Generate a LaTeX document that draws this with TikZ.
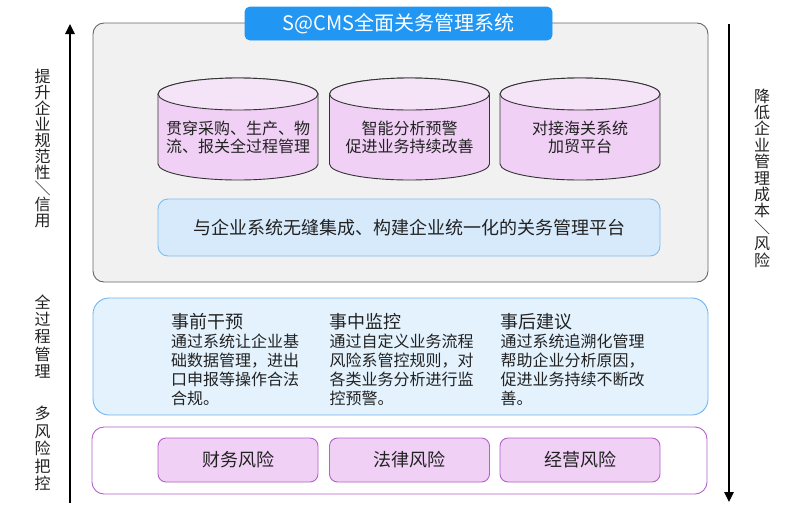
\documentclass[tikz,border=0pt]{standalone}
\usepackage{fontspec}
\setmainfont{Noto Sans CJK SC}
\usetikzlibrary{arrows.meta}
\definecolor{titleblue}{HTML}{2196F3}
\definecolor{grayfill}{HTML}{F1F1F1}
\definecolor{graystroke}{HTML}{666666}
\definecolor{cyltopc}{HTML}{F5E3F8}
\definecolor{cylbodyc}{HTML}{F0D0F5}
\definecolor{cylstroke}{HTML}{333333}
\definecolor{platfill}{HTML}{D6EAFC}
\definecolor{platstroke}{HTML}{7CBDF2}
\definecolor{midfill}{HTML}{E3F2FD}
\definecolor{midstroke}{HTML}{6FB6F2}
\definecolor{riskstroke}{HTML}{B560CC}
\definecolor{riskfill}{HTML}{F0D0F5}
\definecolor{txt}{HTML}{222222}
\begin{document}
\begin{tikzpicture}[x=1pt,y=-1pt,
  every node/.style={text=txt, inner sep=0pt, outer sep=0pt},
  panel/.style={draw, line width=0.9pt, rounded corners=#1},
  graybox/.style={panel=11pt, fill=grayfill, draw=graystroke},
  titlebox/.style={panel=5pt, fill=titleblue, draw=titleblue, text=white,
    font=\fontsize{20}{22}\selectfont},
  platbox/.style={panel=10pt, fill=platfill, draw=platstroke,
    font=\fontsize{18}{20}\selectfont},
  midbox/.style={panel=16pt, fill=midfill, draw=midstroke},
  riskouter/.style={panel=12pt, fill=white, draw=riskstroke},
  riskbox/.style={panel=8pt, fill=riskfill, draw=riskstroke,
    minimum width=160pt, minimum height=44pt, font=\fontsize{18}{20}\selectfont},
  cylbody/.style={fill=cylbodyc, draw=cylstroke, line width=0.9pt},
  cyltop/.style={fill=cyltopc, draw=cylstroke, line width=0.9pt},
  cyltext/.style={align=center, font=\fontsize{16}{18}\selectfont},
  coltext/.style={align=left, anchor=north west, font=\fontsize{16}{19}\selectfont},
  vtext/.style={align=center, font=\fontsize{16}{#1}\selectfont},
  axis/.style={line width=1.5pt, -{Triangle[length=10pt,width=9.5pt]}}
]
\useasboundingbox (0,0) rectangle (800,520);

% outer gray system box
\node[graybox, minimum width=615pt, minimum height=259pt] (sys) at (400.5,152.5) {};
\node[titlebox, minimum width=307pt, minimum height=33pt] (title) at (398.5,23.5) {S@CMS全面关务管理系统};

% cylinders
\foreach \cx/\nm in {238/c1, 409.5/c2, 580/c3}{
  \coordinate (\nm) at (\cx,94);
  \path[cylbody] (\nm) ++(-80,0) -- ++(0,70)
     arc[start angle=180, end angle=360, x radius=80pt, y radius=16pt]
     -- ++(0,-70)
     arc[start angle=0, end angle=180, x radius=80pt, y radius=16pt] -- cycle;
  \path[cyltop] (\nm) ellipse [x radius=80pt, y radius=16pt];
}
\node[cyltext] (t1) at (238,137) {贯穿采购、生产、物\\流、报关全过程管理};
\node[cyltext] (t2) at (409.5,137) {智能分析预警\\促进业务持续改善};
\node[cyltext] (t3) at (580,137) {对接海关系统\\加贸平台};

% platform
\node[platbox, minimum width=502pt, minimum height=57pt] (plat) at (409,227.5) {与企业系统无缝集成、构建企业统一化的关务管理平台};

% middle process box
\node[midbox, minimum width=615pt, minimum height=117pt] (mid) at (400.5,356.5) {};
\node[coltext] (p1) at (171,313) {{\fontsize{18}{19}\selectfont 事前干预}\\通过系统让企业基\\础数据管理，进出\\口申报等操作合法\\合规。};
\node[coltext] (p2) at (329.5,313) {{\fontsize{18}{19}\selectfont 事中监控}\\通过自定义业务流程\\风险系管控规则，对\\各类业务分析进行监\\控预警。};
\node[coltext] (p3) at (500.5,313) {{\fontsize{18}{19}\selectfont 事后建议}\\通过系统追溯化管理\\帮助企业分析原因，\\促进业务持续不断改\\善。};

% risk box
\node[riskouter, minimum width=615pt, minimum height=67pt] (risk) at (399.5,460.5) {};
\node[riskbox] (r1) at (238,460) {财务风险};
\node[riskbox] (r2) at (409.5,460) {法律风险};
\node[riskbox] (r3) at (580,460) {经营风险};

% side arrows
\coordinate (la0) at (70,503);
\coordinate (la1) at (70,24);
\draw[axis] (la0) -- (la1);
\coordinate (ra0) at (729,24);
\coordinate (ra1) at (729,502);
\draw[axis] (ra0) -- (ra1);

% vertical labels
\node[vtext=16] (l1) at (42.5,148) {提\\升\\企\\业\\规\\范\\性\\＼\\信\\用};
\node[vtext=17.4] (l2) at (42.5,336.5) {全\\过\\程\\管\\理};
\node[vtext=17.4] (l3) at (42.5,448.5) {多\\风\\险\\把\\控};
\node[vtext=16.4] (rl) at (762,178) {降\\低\\企\\业\\管\\理\\成\\本\\＼\\风\\险};
\end{tikzpicture}
\end{document}
